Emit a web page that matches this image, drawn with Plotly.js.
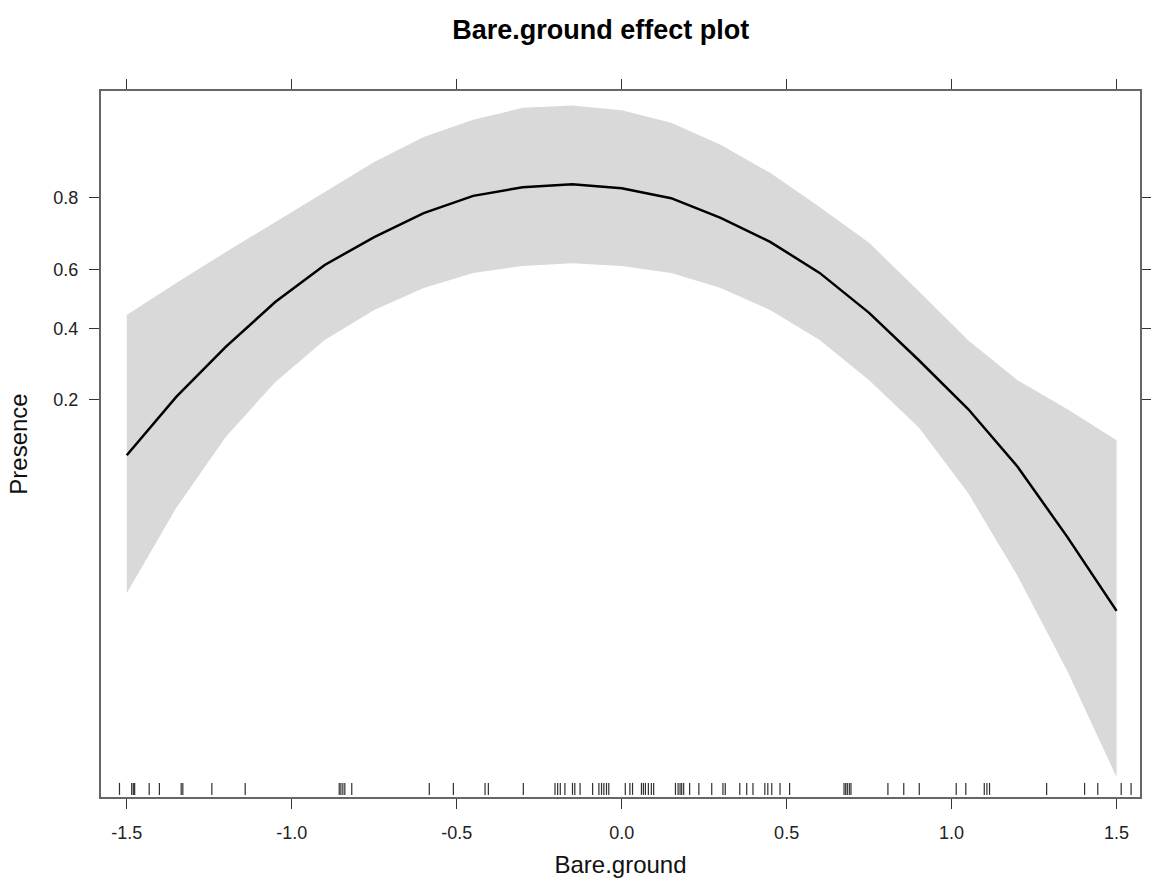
<!DOCTYPE html>
<html>
<head>
<meta charset="utf-8">
<script src="https://cdn.plot.ly/plotly-3.0.1.min.js"></script>
<style>
  html, body { margin: 0; padding: 0; background: #ffffff; }
  #chart { width: 1151px; height: 883px; }
</style>
</head>
<body>
<div id="chart"></div>
<script>
// Evaluation points of the Bare.ground effect
const bareGround = [-1.5, -1.35, -1.2, -1.05, -0.9, -0.75, -0.6, -0.45, -0.3, -0.15, 0,
                    0.15, 0.3, 0.45, 0.6, 0.75, 0.9, 1.05, 1.2, 1.35, 1.5];

// Fitted probability of presence and its 95% confidence limits
const presenceFit   = [0.105, 0.207, 0.341, 0.489, 0.614, 0.700, 0.764, 0.804, 0.822, 0.828, 0.820,
                       0.799, 0.752, 0.686, 0.588, 0.452, 0.302, 0.181, 0.091, 0.037, 0.0137];
const presenceLower = [0.0174, 0.0539, 0.131, 0.242, 0.363, 0.462, 0.537, 0.588, 0.611, 0.620, 0.611,
                       0.588, 0.537, 0.462, 0.363, 0.247, 0.147, 0.0653, 0.0219, 0.0061, 0.00142];
const presenceUpper = [0.445, 0.554, 0.655, 0.741, 0.812, 0.867, 0.902, 0.921, 0.932, 0.934, 0.930,
                       0.918, 0.892, 0.849, 0.779, 0.683, 0.527, 0.362, 0.247, 0.181, 0.126];

// Observed Bare.ground values (rug)
const rugValues = [-1.522, -1.485, -1.480, -1.476, -1.432, -1.401, -1.335, -1.330, -1.242, -1.141,
                   -0.856, -0.851, -0.845, -0.839, -0.818, -0.583, -0.510, -0.414, -0.404, -0.298,
                   -0.202, -0.194, -0.186, -0.172, -0.149, -0.142, -0.126, -0.088, -0.069, -0.061,
                   -0.054, -0.046, -0.039, 0.011, 0.025, 0.033, 0.060, 0.066, 0.072, 0.081, 0.090,
                   0.097, 0.163, 0.171, 0.177, 0.182, 0.188, 0.206, 0.234, 0.273, 0.307, 0.314,
                   0.358, 0.379, 0.398, 0.434, 0.443, 0.455, 0.480, 0.509, 0.674, 0.679, 0.684,
                   0.690, 0.695, 0.807, 0.855, 0.902, 1.014, 1.043, 1.099, 1.107, 1.115, 1.288,
                   1.403, 1.443, 1.514, 1.544];

// Axis ticks
const xTickValues = [-1.5, -1.0, -0.5, 0, 0.5, 1.0, 1.5];
const xTickLabels = ['-1.5', '-1.0', '-0.5', '0.0', '0.5', '1.0', '1.5'];
const yTickValues = [0.2, 0.4, 0.6, 0.8];
const yTickLabels = ['0.2', '0.4', '0.6', '0.8'];

// The response axis is drawn on the logit (linear predictor) scale
const logit = p => Math.log(p / (1 - p));

const frameColor = '#666666';
const tickColor = '#333333';
const fontFamily = '"Liberation Sans", Arial, Helvetica, sans-serif';

const traces = [
  {
    x: bareGround,
    y: presenceUpper.map(logit),
    type: 'scatter',
    mode: 'lines',
    line: { width: 0, color: 'rgba(0,0,0,0)' },
    hoverinfo: 'skip',
    showlegend: false
  },
  {
    x: bareGround,
    y: presenceLower.map(logit),
    type: 'scatter',
    mode: 'lines',
    fill: 'tonexty',
    fillcolor: '#d9d9d9',
    line: { width: 0, color: 'rgba(0,0,0,0)' },
    hoverinfo: 'skip',
    showlegend: false
  },
  {
    x: bareGround,
    y: presenceFit.map(logit),
    type: 'scatter',
    mode: 'lines',
    line: { color: '#000000', width: 2.5 },
    showlegend: false
  }
];

// Rug of observed values along the bottom of the panel
const rugShapes = rugValues.map(v => ({
  type: 'line',
  xref: 'x', yref: 'paper',
  x0: v, x1: v, y0: 0.003, y1: 0.02,
  line: { color: '#303030', width: 1.2 }
}));

const layout = {
  width: 1151,
  height: 883,
  margin: { l: 101, r: 11, t: 91, b: 86 },
  paper_bgcolor: '#ffffff',
  plot_bgcolor: '#ffffff',
  font: { family: fontFamily, color: '#222222' },
  title: {
    text: 'Bare.ground effect plot',
    font: { family: fontFamily, size: 27, weight: 700, color: '#000000' },
    xref: 'paper', x: 0.481, xanchor: 'center',
    yref: 'container', y: 0.967, yanchor: 'middle'
  },
  xaxis: {
    range: [-1.578, 1.571],
    tickmode: 'array',
    tickvals: xTickValues,
    ticktext: xTickLabels,
    ticks: 'outside',
    ticklen: 10,
    tickwidth: 1,
    tickcolor: tickColor,
    ticklabelstandoff: 8,
    tickfont: { size: 18, color: '#222222' },
    showline: true,
    linecolor: frameColor,
    linewidth: 2,
    mirror: 'ticks',
    showgrid: false,
    zeroline: false,
    title: { text: 'Bare.ground', font: { size: 24, color: '#111111' }, standoff: 15 }
  },
  yaxis: {
    range: [-6.828, 2.849],
    tickmode: 'array',
    tickvals: yTickValues.map(logit),
    ticktext: yTickLabels,
    ticks: 'outside',
    ticklen: 10,
    tickwidth: 1,
    tickcolor: tickColor,
    ticklabelstandoff: 7,
    tickfont: { size: 18, color: '#222222' },
    showline: true,
    linecolor: frameColor,
    linewidth: 2,
    mirror: 'ticks',
    showgrid: false,
    zeroline: false,
    title: { text: 'Presence', font: { size: 24, color: '#111111' }, standoff: 19 }
  },
  shapes: rugShapes,
  showlegend: false
};

Plotly.newPlot('chart', traces, layout, { staticPlot: true, displayModeBar: false });
</script>
</body>
</html>
